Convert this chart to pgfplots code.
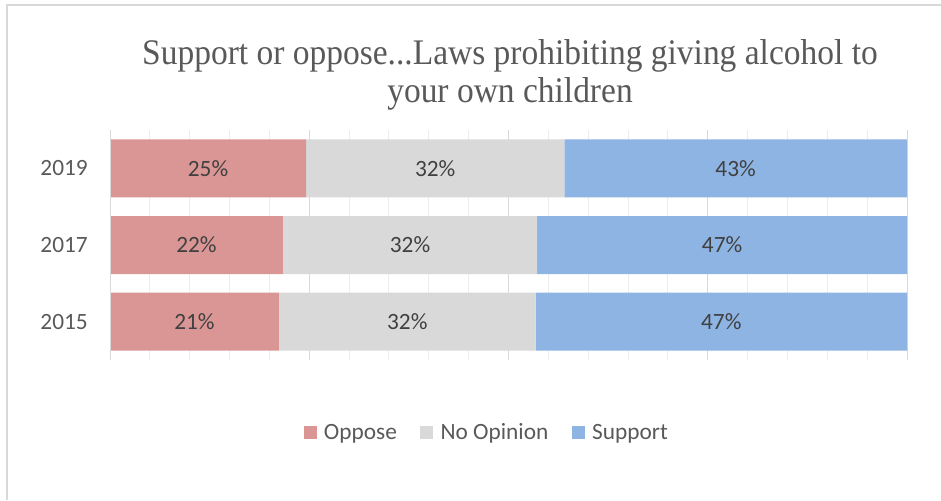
\documentclass[border=0pt]{standalone}
\usepackage{fontspec}
\setmainfont{Carlito}
\newfontfamily\titlefont[FakeStretch=0.93]{Liberation Serif}
\usepackage{pgfplots}
\usepackage{pgfplotstable}
\pgfplotsset{compat=1.18}
\definecolor{oppose}{HTML}{DA9694}
\definecolor{noop}{HTML}{D9D9D9}
\definecolor{support}{HTML}{8EB4E3}
\definecolor{txt}{HTML}{595959}
\definecolor{lbl}{HTML}{404040}
\definecolor{majgrid}{HTML}{D9D9D9}
\definecolor{mingrid}{HTML}{EDEDED}

\pgfplotstableread{
y oppose noop support
0 21.2 32.2 46.6
1 21.7 31.9 46.4
2 24.6 32.4 43.0
}\datatable

\pgfplotstableread{
x y label
10.6 0 21
37.3 0 32
76.7 0 47
10.85 1 22
37.65 1 32
76.8 1 47
12.3 2 25
40.8 2 32
78.5 2 43
}\labeltable

\begin{document}
\begin{tikzpicture}
\path[use as bounding box] (0pt,0pt) rectangle (705.75pt,375pt);
\draw[color=majgrid, line width=1.5pt] (5.25pt,0pt) -- (5.25pt,371.25pt) -- (705.75pt,371.25pt);

\begin{axis}[
  at={(82.5pt,105pt)}, anchor=south west,
  scale only axis, width=597.75pt, height=172.5pt,
  xbar stacked, bar width=43.5pt,
  xmin=0, xmax=100, ymin=-0.5, ymax=2.5,
  ytick={0,1,2}, yticklabels={2015,2017,2019},
  xtick={0,25,50,75,100}, minor xtick={5,10,...,95}, xticklabels={},
  xmajorgrids, xminorgrids,
  major grid style={color=majgrid, line width=0.75pt},
  minor grid style={color=mingrid, line width=0.75pt},
  major tick length=0pt, minor tick length=0pt,
  axis line style={draw=none},
  y tick label style={font=\fontsize{17.5}{20}\selectfont, text=txt, anchor=east, inner sep=0pt, xshift=-16.5pt},
  legend style={at={(0.476,-0.317)}, anchor=center, draw=none, fill=none,
    legend columns=3, font=\fontsize{17.5}{20}\selectfont, text=txt,
    /tikz/every even column/.append style={column sep=12pt},
    nodes={inner xsep=5.5pt}},
  legend image code/.code={\fill[#1] (0pt,-4.6pt) rectangle (9.75pt,5.15pt);},
]
\addplot[fill=oppose, draw=none] table[x=oppose, y=y] {\datatable};
\addlegendentry{Oppose}
\addplot[fill=noop, draw=none] table[x=noop, y=y] {\datatable};
\addlegendentry{No Opinion}
\addplot[fill=support, draw=none] table[x=support, y=y] {\datatable};
\addlegendentry{Support}
\end{axis}
\draw[color=majgrid, line width=0.75pt] (82.5pt,105pt) -- (82.5pt,277.5pt);

\begin{axis}[
  at={(82.5pt,105pt)}, anchor=south west,
  scale only axis, width=597.75pt, height=172.5pt,
  xmin=0, xmax=100, ymin=-0.5, ymax=2.5, hide axis,
]
\addplot[draw=none, mark=none, nodes near coords={\pgfplotspointmeta\%}, point meta=explicit symbolic,
  every node near coord/.style={anchor=center, font=\fontsize{17.5}{20}\selectfont, text=lbl}]
  table[x=x, y=y, meta=label] {\labeltable};
\end{axis}

\node[font=\titlefont\fontsize{27}{28.5}\selectfont, text=txt, anchor=base, inner sep=0pt] at (382.5pt,326.25pt) {Support or oppose...Laws prohibiting giving alcohol to};
\node[font=\titlefont\fontsize{27}{28.5}\selectfont, text=txt, anchor=base, inner sep=0pt] at (382.5pt,297.75pt) {your own children};
\end{tikzpicture}
\end{document}
